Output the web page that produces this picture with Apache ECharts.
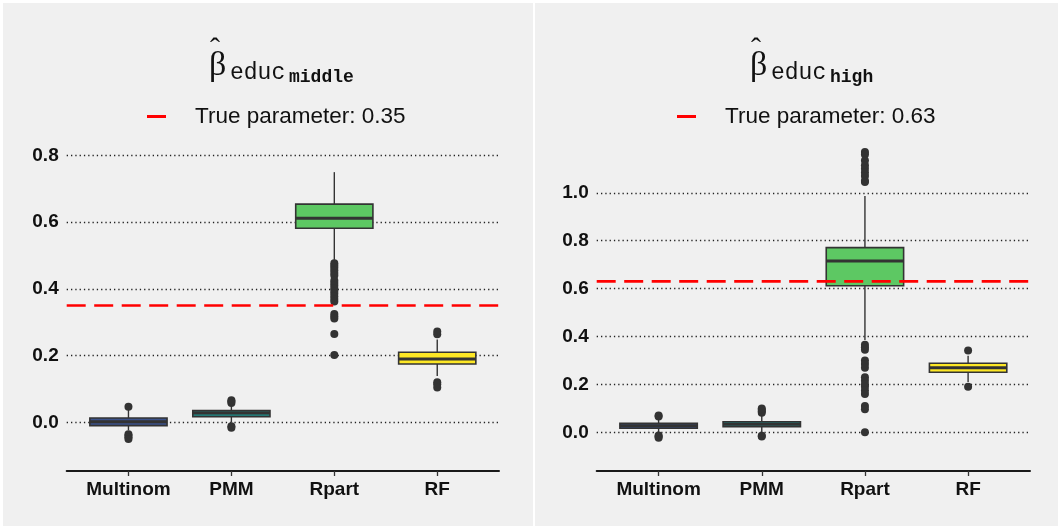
<!DOCTYPE html>
<html>
<head>
<meta charset="utf-8">
<script src="https://cdn.jsdelivr.net/npm/echarts@6/dist/echarts.min.js"></script>
<style>
  html, body { margin: 0; padding: 0; background: #ffffff; }
  #main { width: 1058px; height: 528px; }
</style>
</head>
<body>
<div id="main"></div>
<script>
// categories and colours
const methods = ["Multinom", "PMM", "Rpart", "RF"];
const boxColors = ["#3B528B", "#21908C", "#5DC863", "#FDE725"];

// educ_middle panel: [lower whisker, Q1, median, Q3, upper whisker]
const middleBoxes = [
  [-0.024, -0.010, 0.002, 0.013, 0.037],
  [0.000, 0.017, 0.028, 0.035, 0.052],
  [0.487, 0.582, 0.612, 0.654, 0.750],
  [0.139, 0.175, 0.190, 0.210, 0.248]
];
const middleOutliers = [
  [0.047, -0.036, -0.040, -0.045, -0.050],
  [0.058, 0.062, 0.066, -0.012, -0.016],
  [0.477, 0.470, 0.463, 0.456, 0.448, 0.440, 0.425, 0.418, 0.410, 0.402, 0.394,
   0.386, 0.378, 0.370, 0.362, 0.325, 0.318, 0.311, 0.265, 0.202],
  [0.264, 0.272, 0.120, 0.114, 0.104]
];
const middleTrue = 0.35;
const middleTicks = [0, 0.2, 0.4, 0.6, 0.8];

// educ_high panel
const highBoxes = [
  [0.000, 0.017, 0.027, 0.038, 0.055],
  [0.000, 0.023, 0.034, 0.044, 0.075],
  [0.385, 0.612, 0.715, 0.771, 0.987],
  [0.210, 0.251, 0.270, 0.288, 0.320]
];
const highOutliers = [
  [0.066, 0.070, -0.013, -0.018, -0.023],
  [0.082, 0.088, 0.094, 0.099, -0.014, -0.018],
  [1.170, 1.160, 1.135, 1.115, 1.100, 1.085, 1.070, 1.050, 1.045,
   0.365, 0.355, 0.345, 0.300, 0.285, 0.270, 0.230, 0.215, 0.200, 0.190,
   0.175, 0.160, 0.110, 0.096, 0.000],
  [0.341, 0.190]
];
const highTrue = 0.63;
const highTicks = [0, 0.2, 0.4, 0.6, 0.8, 1.0];

const xTicks = [1, 2, 3, 4];

// box table for the custom series: [x, low, q1, med, q3, high]
function boxData(boxes) {
  return boxes.map(function (b, i) {
    return [i + 1].concat(b);
  });
}
function outlierData(outs) {
  const res = [];
  outs.forEach(function (list, i) {
    list.forEach(function (v) { res.push([i + 1, v]); });
  });
  return res;
}

// ggplot style box without whisker caps
function renderBox(params, api) {
  const x = api.value(0);
  const lo = api.coord([x, api.value(1)]);
  const q1 = api.coord([x, api.value(2)]);
  const md = api.coord([x, api.value(3)]);
  const q3 = api.coord([x, api.value(4)]);
  const hi = api.coord([x, api.value(5)]);
  const half = api.size([0.75, 0])[0] / 2;
  const stroke = "#333333";
  return {
    type: "group",
    children: [
      { type: "line", shape: { x1: lo[0], y1: lo[1], x2: q1[0], y2: q1[1] }, style: { stroke: stroke, lineWidth: 1.4 } },
      { type: "line", shape: { x1: q3[0], y1: q3[1], x2: hi[0], y2: hi[1] }, style: { stroke: stroke, lineWidth: 1.4 } },
      {
        type: "rect",
        shape: { x: q3[0] - half, y: q3[1], width: half * 2, height: q1[1] - q3[1] },
        style: { fill: boxColors[x - 1], stroke: stroke, lineWidth: 1.6 }
      },
      { type: "line", shape: { x1: md[0] - half, y1: md[1], x2: md[0] + half, y2: md[1] }, style: { stroke: stroke, lineWidth: 3 } }
    ]
  };
}

const labelFont = "Liberation Sans";

function makeXAxis(idx) {
  return {
    type: "value",
    gridIndex: idx,
    min: 0.4,
    max: 4.6,
    axisLine: { show: true, onZero: false, lineStyle: { color: "#1a1a1a", width: 2 } },
    axisTick: { show: true, customValues: xTicks, length: 5, lineStyle: { color: "#333333", width: 1.3 } },
    axisLabel: {
      customValues: xTicks,
      margin: 9,
      fontFamily: labelFont,
      fontWeight: "bold",
      fontSize: 19,
      color: "#111111",
      formatter: function (v) { return methods[Math.round(v) - 1]; }
    },
    splitLine: { show: false }
  };
}

function makeYAxis(idx, min, max, ticks) {
  return {
    type: "value",
    gridIndex: idx,
    min: min,
    max: max,
    axisLine: { show: false },
    axisTick: { show: false, customValues: ticks },
    axisLabel: {
      customValues: ticks,
      margin: 8,
      fontFamily: labelFont,
      fontWeight: "bold",
      fontSize: 19,
      color: "#111111",
      formatter: function (v) { return v.toFixed(1); }
    },
    splitLine: { show: true, lineStyle: { color: "#222222", width: 1.3, type: [1.3, 3] } }
  };
}

function trueLine(idx, name, value) {
  return {
    type: "line",
    name: name,
    xAxisIndex: idx,
    yAxisIndex: idx,
    data: [[0.4, value], [4.6, value]],
    symbol: "none",
    silent: true,
    z: 6,
    itemStyle: { color: "#ff0000" },
    lineStyle: { color: "#ff0000", width: 2.6, type: [19, 8.5] }
  };
}

// beta hat with a two level subscript, e.g. educ_middle
function titleParts(x0, sub) {
  return [
    { type: "text", x: x0, y: 50, z: 10, style: { text: "\u02c6", font: "30px 'Liberation Serif'", fill: "#111", textAlign: "left", textVerticalAlign: "middle" } },
    { type: "text", x: x0 - 1, y: 66, z: 10, style: { text: "\u03b2", font: "34px 'Liberation Serif'", fill: "#111", textAlign: "left", textVerticalAlign: "middle" } },
    { type: "text", x: x0 + 20, y: 73, z: 10, style: { text: "educ", font: "23px 'Liberation Mono'", fill: "#111", textAlign: "left", textVerticalAlign: "middle" } },
    { type: "text", x: x0 + 79, y: 77, z: 10, style: { text: sub, font: "bold 18px 'Liberation Mono'", fill: "#111", textAlign: "left", textVerticalAlign: "middle" } }
  ];
}

function legendFor(name, left) {
  return {
    data: [name],
    left: left,
    top: 100,
    icon: "rect",
    itemWidth: 19,
    itemHeight: 3,
    itemStyle: { color: "#ff0000", borderWidth: 0 },
    textStyle: { fontFamily: labelFont, fontSize: 22.5, color: "#111111", padding: [0, 0, 0, 24] }
  };
}

let chart = echarts.init(document.getElementById("main"));
chart.setOption({
  animation: false,
  backgroundColor: "#ffffff",
  graphic: [
    { type: "rect", z: -100, silent: true, shape: { x: 3, y: 3, width: 530, height: 523 }, style: { fill: "#f0f0f0" } },
    { type: "rect", z: -100, silent: true, shape: { x: 535, y: 3, width: 523, height: 523 }, style: { fill: "#f0f0f0" } }
  ]
    .concat(titleParts(210, "middle"))
    .concat(titleParts(751, "high")),
  legend: [
    legendFor("True parameter: 0.35", 142),
    legendFor("True parameter: 0.63", 672)
  ],
  grid: [
    { left: 66.7, right: 559, top: 148.8, bottom: 57 },
    { left: 596.7, right: 28, top: 135.3, bottom: 57 }
  ],
  xAxis: [makeXAxis(0), makeXAxis(1)],
  yAxis: [
    makeYAxis(0, -0.146, 0.82, middleTicks),
    makeYAxis(1, -0.1616, 1.24, highTicks)
  ],
  series: [
    {
      type: "custom",
      xAxisIndex: 0,
      yAxisIndex: 0,
      z: 3,
      renderItem: renderBox,
      encode: { x: 0, y: [1, 2, 3, 4, 5] },
      data: boxData(middleBoxes)
    },
    {
      type: "scatter",
      xAxisIndex: 0,
      yAxisIndex: 0,
      z: 4,
      symbolSize: 8,
      itemStyle: { color: "#333333", opacity: 1 },
      data: outlierData(middleOutliers)
    },
    trueLine(0, "True parameter: 0.35", middleTrue),
    {
      type: "custom",
      xAxisIndex: 1,
      yAxisIndex: 1,
      z: 3,
      renderItem: renderBox,
      encode: { x: 0, y: [1, 2, 3, 4, 5] },
      data: boxData(highBoxes)
    },
    {
      type: "scatter",
      xAxisIndex: 1,
      yAxisIndex: 1,
      z: 4,
      symbolSize: 8,
      itemStyle: { color: "#333333", opacity: 1 },
      data: outlierData(highOutliers)
    },
    trueLine(1, "True parameter: 0.63", highTrue)
  ]
});
</script>
</body>
</html>
